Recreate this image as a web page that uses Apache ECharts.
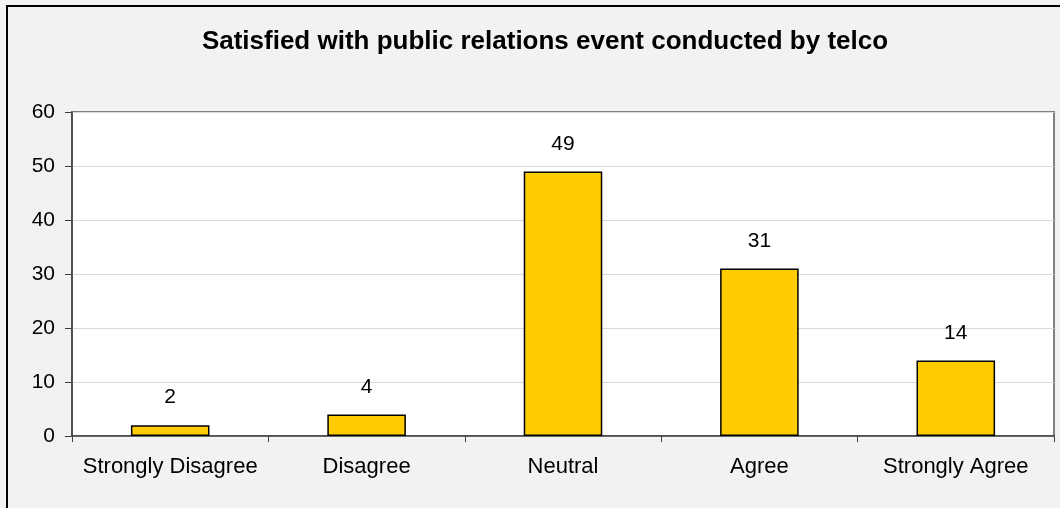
<!DOCTYPE html>
<html><head><meta charset="utf-8">
<script src="https://cdn.jsdelivr.net/npm/echarts@6/dist/echarts.min.js"></script>
<style>html,body{margin:0;padding:0;background:#F2F2F2;}#c{width:1060px;height:508px;}</style>
</head><body><div id="c"></div>
<script>
const titleText = 'Satisfied with public relations event conducted by telco';
const categories = ['Strongly Disagree', 'Disagree', 'Neutral', 'Agree', 'Strongly Agree'];
const values = [2, 4, 49, 31, 14];
const yTicks = {min: 0, max: 60, interval: 10};

const chart = echarts.init(document.getElementById('c'), null, {renderer: 'canvas'});
const F = 'Liberation Sans, Arial, sans-serif';
chart.setOption({
  backgroundColor: '#F2F2F2',
  animation: false,
  title: {text: titleText, left: 540, top: 24, textAlign: 'center',
    textStyle: {fontFamily: F, fontSize: 26, fontWeight: 'bold', color: '#000'}},
  graphic: [
    {type: 'polyline', shape: {points: [[7, 508], [7, 6], [1060, 6]]}, style: {stroke: '#000', lineWidth: 2, fill: null}, z: 100}
  ],
  grid: {left: 72, right: 6, top: 112, bottom: 72, show: true, backgroundColor: '#fff', borderColor: '#808080', borderWidth: 2},
  xAxis: {type: 'category', data: categories,
    axisLine: {lineStyle: {color: '#404040', width: 1.5}},
    axisTick: {show: true, length: 6, lineStyle: {color: '#404040'}, alignWithLabel: false},
    axisLabel: {fontFamily: F, fontSize: 22, color: '#000', margin: 20, interval: 0}},
  yAxis: {type: 'value', min: yTicks.min, max: yTicks.max, interval: yTicks.interval,
    axisLine: {show: true, lineStyle: {color: '#404040', width: 1.5}},
    axisTick: {show: true, length: 7, lineStyle: {color: '#404040'}},
    axisLabel: {fontFamily: F, fontSize: 21, color: '#000', margin: 17},
    splitLine: {lineStyle: {color: '#D9D9D9', width: 1}}},
  series: [{type: 'bar', data: values, barWidth: '40%',
    itemStyle: {color: '#FFCC00', borderColor: '#000', borderWidth: 1.5},
    label: {show: true, position: 'top', distance: 17, fontFamily: F, fontSize: 21, color: '#000'}}]
});
</script></body></html>
